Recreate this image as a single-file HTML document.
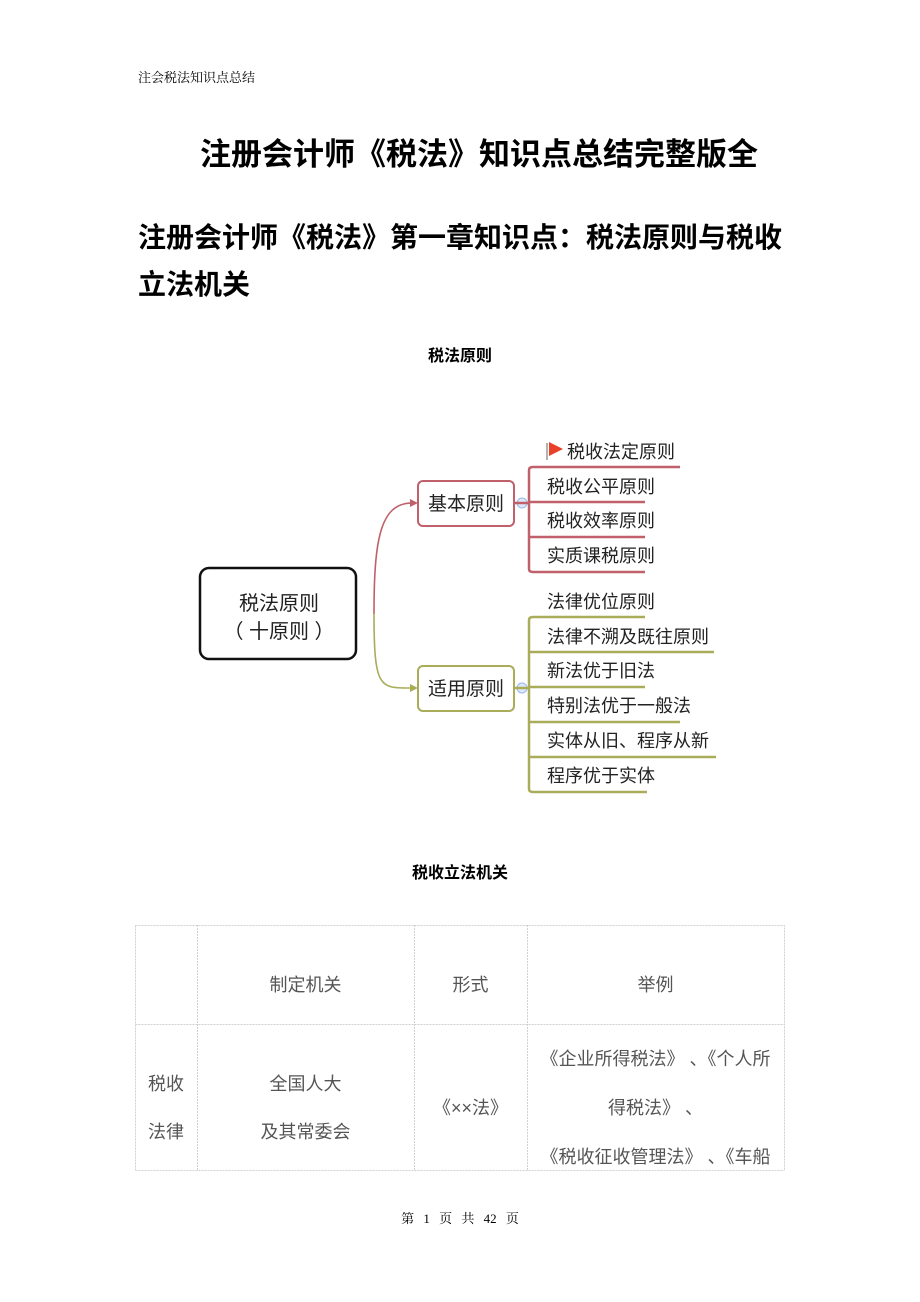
<!DOCTYPE html>
<html><head><meta charset="utf-8"><style>
body{margin:0;width:920px;height:1302px;background:#fff;position:relative;overflow:hidden;font-family:"Liberation Sans","Noto Sans CJK SC",sans-serif;color:#000}
.a{position:absolute;white-space:nowrap}
.c{position:absolute;left:0;width:920px;text-align:center}
.b{font-weight:bold}
.t{position:absolute;color:#555;font-size:18px;text-align:center;line-height:48px}
</style></head><body>
<div class="a" style="left:138px;top:67px;font-size:13px;font-family:'Liberation Serif','Noto Serif CJK SC',serif">注会税法知识点总结</div>
<div class="a b" style="left:200px;top:129px;font-size:31px">注册会计师《税法》知识点总结完整版全</div>
<div class="a b" style="left:138px;top:214px;font-size:28px;line-height:47px">注册会计师《税法》第一章知识点：税法原则与税收<br>立法机关</div>
<div class="c b" style="top:342px;font-size:16px">税法原则</div>
<svg style="position:absolute;left:0;top:0" width="920" height="820">
<rect x="200" y="568" width="156" height="91" rx="9" fill="#fff" stroke="#111" stroke-width="2.5"/>
<path d="M374 614 C374 540 380 503 412 503" fill="none" stroke="#c0606a" stroke-width="1.6"/>
<path d="M374 614 C374 690 380 688 412 688" fill="none" stroke="#a9ad5a" stroke-width="1.6"/>
<path d="M410 499 L418 503 L410 507Z" fill="#c0606a"/>
<path d="M410 684 L418 688 L410 692Z" fill="#a9ad5a"/>
<rect x="418" y="481" width="96" height="45" rx="5" fill="#fff" stroke="#c0606a" stroke-width="2"/>
<rect x="418" y="666" width="96" height="45" rx="5" fill="#fff" stroke="#a9ad5a" stroke-width="2"/>
<circle cx="522" cy="503" r="5" fill="#dde8fb" stroke="#9bb8ea"/>
<circle cx="522" cy="688" r="5" fill="#dde8fb" stroke="#9bb8ea"/>
<g stroke="#c0606a" stroke-width="2.5" fill="none">
<path d="M514 503 H529 M533 467 H680 M529 470 V569 Q529 572 533 572 H645 M529 502 H645 M529 537 H645 M529 470 Q529 467 533 467"/>
</g>
<g stroke="#a9ad5a" stroke-width="2.5" fill="none">
<path d="M514 688 H529 M533 617 H645 M529 620 Q529 617 533 617 M529 620 V789 Q529 792 533 792 H647 M529 652 H714 M529 687 H645 M529 722 H680 M529 757 H716"/>
</g>
<path d="M547 443 V460" stroke="#999" stroke-width="1.5"/>
<path d="M549 442 L563 449 L549 456Z" fill="#e8402a"/>
<g font-size="18" fill="#222" font-family="Liberation Sans,Noto Sans CJK SC,sans-serif">
<text x="567" y="458">税收法定原则</text>
<text x="547" y="493">税收公平原则</text>
<text x="547" y="527">税收效率原则</text>
<text x="547" y="562">实质课税原则</text>
<text x="547" y="608">法律优位原则</text>
<text x="547" y="643">法律不溯及既往原则</text>
<text x="547" y="677">新法优于旧法</text>
<text x="547" y="712">特别法优于一般法</text>
<text x="547" y="747">实体从旧、程序从新</text>
<text x="547" y="782">程序优于实体</text>
</g>
<g font-size="19" fill="#222" font-family="Liberation Sans,Noto Sans CJK SC,sans-serif">
<text x="428" y="510">基本原则</text>
<text x="428" y="695">适用原则</text>
</g>
<g font-size="20" fill="#222" font-family="Liberation Sans,Noto Sans CJK SC,sans-serif" text-anchor="middle">
<text x="279" y="610">税法原则</text>
<text x="279" y="638">（ 十原则 ）</text>
</g>
</svg>
<div class="c b" style="top:859px;font-size:16px">税收立法机关</div>
<svg style="position:absolute;left:0;top:0" width="920" height="1302">
<g stroke="#d0d0d0" stroke-width="1" stroke-dasharray="2,1" fill="none">
<path d="M135.5 925.5 H784.5 V1170 M135.5 925.5 V1170 M135.5 1170.5 H784.5 M135.5 1024.5 H784.5 M197.5 925 V1170 M414.5 925 V1170 M527.5 925 V1170"/>
</g>
</svg>
<div class="t" style="left:197px;width:217px;top:961px">制定机关</div>
<div class="t" style="left:414px;width:113px;top:961px">形式</div>
<div class="t" style="left:527px;width:257px;top:961px">举例</div>
<div class="t" style="left:135px;width:62px;top:1060px">税收<br>法律</div>
<div class="t" style="left:197px;width:217px;top:1060px">全国人大<br>及其常委会</div>
<div class="t" style="left:414px;width:113px;top:1084px">《××法》</div>
<div class="t" style="left:527px;width:257px;top:1035px;line-height:49px;white-space:nowrap">《企业所得税法》 、《个人所<br>得税法》 、<br>《税收征收管理法》 、《车船</div>
<div class="c" style="top:1208px;font-size:13px;font-family:'Liberation Serif','Noto Serif CJK SC',serif;word-spacing:6px">第 1 页 共 42 页</div>
</body></html>
